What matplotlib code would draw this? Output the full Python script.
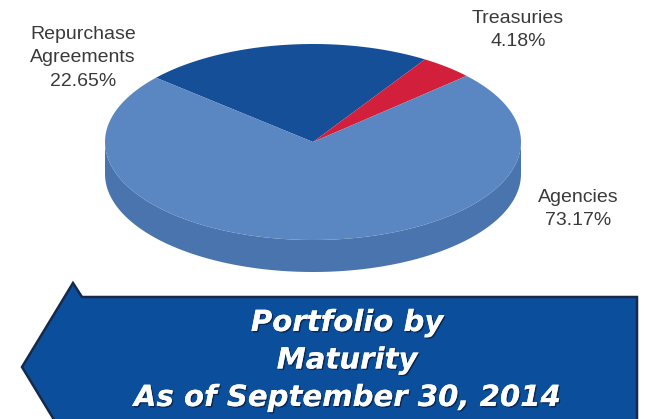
import numpy as np
import matplotlib
matplotlib.use("Agg")
import matplotlib.pyplot as plt
from matplotlib.patches import Polygon
import matplotlib.patheffects as pe

# ---- data ----
categories = ["Repurchase\nAgreements", "Treasuries", "Agencies"]
values = [22.65, 4.18, 73.17]
colors = ["#154f98", "#d21f3c", "#5a86c1"]
side_colors = ["#123f7c", "#a8182f", "#4a74ad"]
title_lines = ["Portfolio by", "Maturity", "As of September 30, 2014"]

# ---- layout (pixel space) ----
W, H = 660, 419
cx, cy, a, b = 313, 142, 208, 98
depth = 32
start_angle = 139.0

fig = plt.figure(figsize=(W / 100, H / 100), dpi=100)
ax = fig.add_axes([0, 0, 1, 1])
ax.set_xlim(0, W)
ax.set_ylim(H, 0)
ax.axis("off")


def pt(theta, dy=0.0):
    t = np.deg2rad(theta)
    return cx + a * np.cos(t), cy - b * np.sin(t) + dy


fracs = np.array(values) / np.sum(values)
cum = np.concatenate([[0], np.cumsum(fracs)])
spans = [(start_angle - cum[i + 1] * 360, start_angle - cum[i] * 360) for i in range(len(values))]

# side walls (front half: angles in (180, 360) mod 360)
for i, (lo, hi) in enumerate(spans):
    for k in range(-3, 3):
        flo, fhi = 180 + 360 * k, 360 + 360 * k
        s, e = max(lo, flo), min(hi, fhi)
        if e > s:
            th = np.linspace(s, e, 100)
            top = [pt(t) for t in th]
            bot = [pt(t, depth) for t in th[::-1]]
            ax.add_patch(Polygon(top + bot, closed=True, facecolor=side_colors[i],
                                 edgecolor="none", zorder=1))

# top faces
for i, (lo, hi) in enumerate(spans):
    th = np.linspace(lo, hi, 200)
    verts = [(cx, cy)] + [pt(t) for t in th]
    ax.add_patch(Polygon(verts, closed=True, facecolor=colors[i], edgecolor="none", zorder=2))

# labels
label_pos = [(83, 58), (518, 30), (578, 209)]
for name, v, (lx, ly) in zip(categories, values, label_pos):
    ax.text(lx, ly, f"{name}\n{v:.2f}%", ha="center", va="center", fontsize=14,
            color="#3a3a3a", family="Liberation Sans", linespacing=1.5, zorder=5)

# banner arrow
arrow = [(22, 367), (73, 283), (82, 297), (637, 297), (637, 440), (82, 440), (73, 451)]
ax.add_patch(Polygon(arrow, closed=True, facecolor="#0b4f9c", edgecolor="#16294a",
                     linewidth=1.8, zorder=3))

for j, line in enumerate(title_lines):
    ax.text(347, 323 + 37.5 * j, line, ha="center", va="center", fontsize=21,
            fontweight="bold", fontstyle="italic", family="DejaVu Sans", color="white",
            zorder=6,
            path_effects=[pe.withSimplePatchShadow(offset=(1, -1), shadow_rgbFace="#0a1f3f",
                                                   alpha=0.8), pe.Normal()])

fig.savefig("out.png", dpi=100)
